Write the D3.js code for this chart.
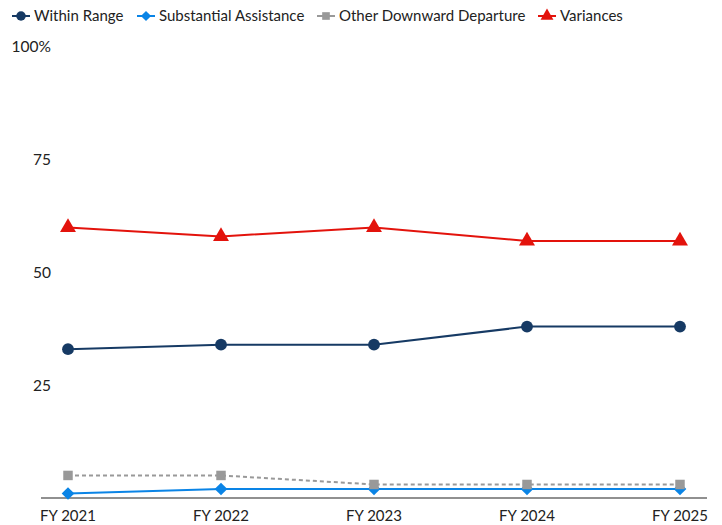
<!DOCTYPE html>
<html><head><meta charset="utf-8">
<script src="https://cdn.jsdelivr.net/npm/d3@7"></script>
<style>body{margin:0;background:#fff;font-family:Lato,sans-serif}</style>
</head><body><svg id="c" width="722" height="525"></svg>
<script>
const years = ["FY 2021","FY 2022","FY 2023","FY 2024","FY 2025"];
const withinRange = [33,34,34,38,38];
const substantial = [1,2,2,2,2];
const otherDownward = [5,5,3,3,3];
const variances = [60,58,60,57,57];
const yTicks = [25,50,75,100];

const diamond = {draw(ctx,size){const r=Math.sqrt(size/2);ctx.moveTo(0,-r);ctx.lineTo(r,0);ctx.lineTo(0,r);ctx.lineTo(-r,0);ctx.closePath();}};
const series = [
  {name:"Within Range", values:withinRange, color:"#163a64", sym:d3.symbolCircle, size:110, dash:null},
  {name:"Substantial Assistance", values:substantial, color:"#0a84e6", sym:diamond, size:80, dash:null},
  {name:"Other Downward Departure", values:otherDownward, color:"#999999", sym:d3.symbolSquare, size:90, dash:"4,3"},
  {name:"Variances", values:variances, color:"#e3130c", sym:d3.symbolTriangle, size:110, dash:null}
];

const svg = d3.select("#c");
const x = d3.scalePoint().domain(years).range([68,680]);
const y = d3.scaleLinear().domain([0,100]).range([498,47]);

svg.append("line").attr("x1",41).attr("x2",707).attr("y1",y(0)).attr("y2",y(0))
  .attr("stroke","#222").attr("stroke-width",1.2);

svg.selectAll(".yl").data(yTicks).enter().append("text")
  .attr("x",51).attr("y",d=>y(d)).attr("dy","0.35em").attr("text-anchor","end")
  .attr("font-size",15.5).attr("fill","#222").text(d=>d===100?"100%":d);

svg.selectAll(".xl").data(years).enter().append("text")
  .attr("x",d=>x(d)).attr("y",521).attr("text-anchor","middle")
  .attr("font-size",15).attr("fill","#222").text(d=>d);

const line = d3.line().x((d,i)=>x(years[i])).y(d=>y(d));
series.forEach(s=>{
  svg.append("path").attr("d",line(s.values)).attr("fill","none")
    .attr("stroke",s.color).attr("stroke-width",2)
    .attr("stroke-dasharray",s.dash);
  svg.selectAll(null).data(s.values).enter().append("path")
    .attr("d",d3.symbol().type(s.sym).size(s.size))
    .attr("transform",(d,i)=>`translate(${x(years[i])},${y(d)})`)
    .attr("fill",s.color);
});

const legX = [21,146,326,547];
series.forEach((s,i)=>{
  const g = svg.append("g").attr("transform",`translate(${legX[i]},16)`);
  g.append("line").attr("x1",-9).attr("x2",9).attr("stroke",s.color).attr("stroke-width",2);
  g.append("path").attr("d",d3.symbol().type(s.sym).size(s.size*0.65)).attr("fill",s.color);
  g.append("text").attr("x",13).attr("dy","0.35em").attr("font-size",15).attr("fill","#222").text(s.name);
});
</script></body></html>
